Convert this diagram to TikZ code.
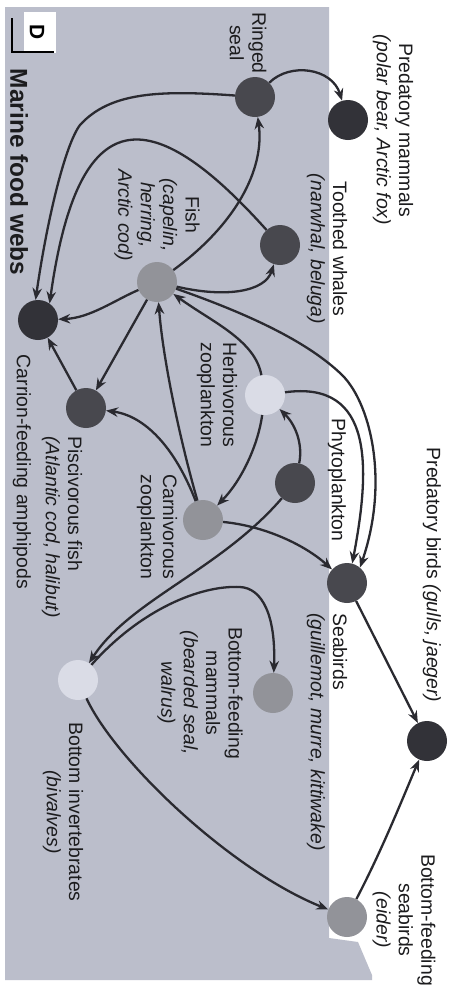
\documentclass[tikz,border=0pt]{standalone}
\usepackage{fontspec}
\setmainfont{Liberation Sans}
\usetikzlibrary{arrows.meta}
\definecolor{sea}{RGB}{187,190,203}
\definecolor{ink}{RGB}{42,42,48}
\definecolor{txt}{RGB}{28,28,30}
\definecolor{nblack}{RGB}{50,50,56}
\definecolor{ndark}{RGB}{72,72,78}
\definecolor{nmid}{RGB}{146,147,153}
\definecolor{nlight}{RGB}{218,220,230}
\begin{document}
\begin{tikzpicture}[x=1bp,y=-1bp,
  sp/.style={circle, minimum size=40bp, inner sep=0pt, draw=none},
  lab/.style={rotate=-90, inner sep=0pt, text=txt, font=\fontsize{19.5}{22.5}\selectfont},
  link/.style={draw=ink, line width=2.3bp, -{Stealth[length=12bp,width=9.5bp]}},
]
\useasboundingbox (0,0) rectangle (460,993);
\fill[white] (0,0) rectangle (460,993);
% sea area
\fill[sea] (5,7) -- (329,7) -- (329,938) -- (358,942) -- (372,975) -- (372,980) -- (5,980) -- cycle;
% panel letter
\fill[white] (24,12) rectangle (56,53);
\draw[black, line width=2.6bp] (12,18) -- (12,52) -- (54,52);
\node[rotate=-90, inner sep=0pt, font=\bfseries\fontsize{21}{23}\selectfont] (panel) at (37,32) {D};
\node[lab, font=\bfseries\fontsize{24.5}{26}\selectfont] (title) at (19,172) {Marine food webs};

% organisms
\node[sp, fill=ndark]  (seal)    at (255,97)  {};
\node[sp, fill=nblack] (predm)   at (348,120) {};
\node[sp, fill=ndark]  (whales)  at (280,245) {};
\node[sp, fill=nmid]   (fish)    at (157,282) {};
\node[sp, fill=nblack] (carrion) at (38,320)  {};
\node[sp, fill=ndark]  (pisc)    at (86,408)  {};
\node[sp, fill=nlight] (herbz)   at (265,395) {};
\node[sp, fill=ndark]  (phyto)   at (295,483) {};
\node[sp, fill=nmid]   (carnz)   at (203,520) {};
\node[sp, fill=ndark]  (seab)    at (347,583) {};
\node[sp, fill=nblack] (predb)   at (427,741) {};
\node[sp, fill=nmid]   (bfmam)   at (273,693) {};
\node[sp, fill=nlight] (binv)    at (78,680)  {};
\node[sp, fill=nmid]   (bfsb)    at (347,917) {};

% labels
\node[lab, align=center] (lseal) at (248,43) {Ringed\\seal};
\node[lab, align=center] (lpredm) at (393,130) {Predatory mammals\\\textit{(polar bear, Arctic fox)}};
\node[lab, align=center] (lwhales) at (327,249) {Toothed whales\\\textit{(narwhal, beluga)}};
\node[lab, align=center] (lfish) at (157,215) {Fish\\\textit{(capelin,}\\\textit{herring,}\\\textit{Arctic cod)}};
\node[lab, align=left] (lherbz) at (217,395) {Herbivorous\\zooplankton};
\node[lab] (lphyto) at (337,480) {Phytoplankton};
\node[lab, align=left] (lcarnz) at (157,527) {Carnivorous\\zooplankton};
\node[lab, align=left] (lpisc) at (62,527) {Piscivorous fish\\\textit{(Atlantic cod, halibut)}};
\node[lab] (lcarrion) at (22,472) {Carrion-feeding amphipods};
\node[lab, align=left] (lseab) at (327,732) {Seabirds\\\textit{(guillemot, murre, kittiwake)}};
\node[lab] (lpredb) at (432,575) {Predatory birds \textit{(gulls, jaeger)}};
\node[lab, align=center] (lbfmam) at (200,693) {Bottom-feeding\\mammals\\\textit{(bearded seal,}\\\textit{walrus)}};
\node[lab, align=center] (lbinv) at (63,812) {Bottom invertebrates\\\textit{(bivalves)}};
\node[lab, align=center] (lbfsb) at (404,920) {Bottom-feeding\\seabirds\\\textit{(eider)}};

% feeding links
\draw[link] (seal) .. controls (290,62) and (332,68) .. (predm);
\draw[link] (fish) .. controls (235,225) and (265,170) .. (seal);
\draw[link] (seal) .. controls (160,90) and (110,92) .. (80,125) .. controls (65,145) and (47,220) .. (carrion.97);
\draw[link] (whales) .. controls (150,100) and (78,100) .. (carrion.55);
\draw[link] (fish) .. controls (225,298) and (265,292) .. (whales);
\draw[link] (fish) .. controls (115,300) and (90,318) .. (carrion);
\draw[link] (fish) -- (pisc);
\draw[link] (pisc) -- (carrion);
\draw[link] (carnz) .. controls (172,440) and (140,415) .. (pisc);
\draw[link] (carnz) .. controls (180,440) and (163,360) .. (fish);
\draw[link] (herbz) .. controls (255,340) and (212,322) .. (fish);
\draw[link] (fish) .. controls (260,318) and (310,345) .. (340,373) .. controls (370,400) and (390,480) .. (seab.50);
\draw[link] (herbz) .. controls (375,380) and (370,470) .. (seab.75);
\draw[link] (phyto) .. controls (303,445) and (296,425) .. (herbz);
\draw[link] (herbz) .. controls (258,445) and (242,480) .. (carnz);
\draw[link] (carnz) .. controls (265,526) and (305,545) .. (seab);
\draw[link] (phyto) .. controls (220,570) and (130,600) .. (binv);
\draw[link] (binv) .. controls (140,610) and (200,585) .. (240,587) .. controls (262,588) and (276,615) .. (bfmam);
\draw[link] (binv) .. controls (115,760) and (230,870) .. (bfsb);
\draw[link] (seab) -- (predb);
\draw[link] (bfsb) .. controls (382,850) and (402,800) .. (predb);
\end{tikzpicture}
\end{document}
